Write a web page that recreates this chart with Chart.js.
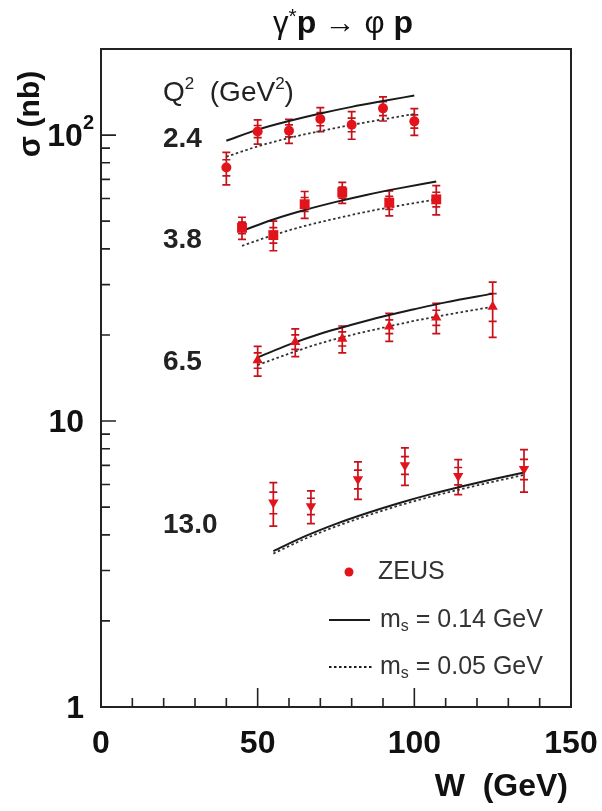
<!DOCTYPE html>
<html><head><meta charset="utf-8">
<script src="https://cdn.jsdelivr.net/npm/chart.js@4.4.0/dist/chart.umd.min.js"></script>
<style>html,body{margin:0;padding:0;background:#fff;}#wrap{width:602px;height:811px;}</style>
</head><body><div id="wrap"><canvas id="c" width="602" height="811"></canvas></div>
<script>
// ---------- data ----------
const qLabels = ["2.4", "3.8", "6.5", "13.0"];

// ZEUS measurements: W (GeV), sigma (nb), total error, statistical error
const W24 = [40, 50, 60, 70, 80, 90, 100];
const S24 = [77, 103, 103.5, 113.8, 108.7, 124, 111.7];
const ET24 = [10, 10, 10, 11, 12, 12, 12];
const ES24 = [5, 5, 5, 6, 6, 7, 6];

const W38 = [45, 55, 65, 77, 92, 107];
const S38 = [47.4, 44.7, 57.3, 63, 58, 59.6];
const ET38 = [4.2, 5.3, 6.2, 5.3, 5.8, 7];
const ES38 = [2.2, 2.8, 3.2, 2.8, 3, 3.5];

const W65 = [50, 62, 77, 92, 107, 125];
const S65 = [16.3, 18.9, 19.4, 21.4, 23.0, 25.1];
const ET65 = [1.95, 2.1, 2.1, 2.4, 2.8, 5.5];
const ES65 = [1.0, 1.1, 1.1, 1.2, 1.4, 2.8];

const W130 = [55, 67, 82, 97, 114, 135];
const S130 = [5.19, 5.04, 6.26, 7.01, 6.43, 6.79];
const ET130 = [0.9, 0.66, 0.94, 1.05, 0.9, 1.15];
const ES130 = [0.45, 0.33, 0.47, 0.5, 0.45, 0.55];

// model curves: m_s = 0.14 GeV (solid) and m_s = 0.05 GeV (dotted)
const CW24 = [40, 50, 60, 70, 80, 90, 100];
const SOL24 = [95.5, 104.5, 112, 119, 125.5, 131.5, 137.5];
const DOT24 = [84, 91.3, 97.7, 103.3, 108.5, 113.5, 118.5];

const CW38 = [45, 55, 65, 75, 85, 95, 107];
const SOL38 = [46.2, 50.7, 54.7, 58.4, 61.9, 65.1, 68.8];
const DOT38 = [41, 44.7, 48.1, 51.1, 54, 56.6, 59.6];

const CW65 = [50, 60, 70, 80, 90, 100, 110, 125];
const SOL65 = [16.7, 18.5, 20.2, 21.7, 23.2, 24.6, 26, 27.9];
const DOT65 = [15.7, 17.2, 18.7, 20, 21.2, 22.4, 23.5, 25.1];

const CW130 = [55, 65, 75, 85, 95, 105, 115, 125, 135];
const SOL130 = [3.51, 3.95, 4.37, 4.77, 5.16, 5.54, 5.90, 6.26, 6.61];
const DOT130 = [3.44, 3.87, 4.28, 4.67, 5.06, 5.43, 5.78, 6.13, 6.48];

// axes
const xTicks = [0, 50, 100, 150];
const xMinor = [10, 20, 30, 40, 60, 70, 80, 90, 110, 120, 130, 140];
const yTicks = [1, 10, 100];
const yTickBase = ["1", "10", "10"];
const yTickExp = ["", "", "2"];
const yMinor = [2, 3, 4, 5, 6, 7, 8, 9, 20, 30, 40, 50, 60, 70, 80, 90];

// ---------- chart ----------
const FAM = '"Liberation Sans", Arial, Helvetica, sans-serif';
const RED = '#e3131b';
const ERR = '#c8101a';

const pts = (w, s) => w.map((x, i) => ({x: x, y: s[i]}));

const pointSets = [
  {w: W24, s: S24, et: ET24, es: ES24, style: 'circle', rot: 0, r: 5},
  {w: W38, s: S38, et: ET38, es: ES38, style: 'rect', rot: 0, r: 7},
  {w: W65, s: S65, et: ET65, es: ES65, style: 'triangle', rot: 0, r: 6},
  {w: W130, s: S130, et: ET130, es: ES130, style: 'triangle', rot: 180, r: 6}
];
const curveSets = [
  [CW24, SOL24, DOT24], [CW38, SOL38, DOT38], [CW65, SOL65, DOT65], [CW130, SOL130, DOT130]
];

const datasets = [];
pointSets.forEach(p => datasets.push({
  type: 'scatter', data: pts(p.w, p.s), pointStyle: p.style, rotation: p.rot,
  pointRadius: p.r, backgroundColor: RED, borderColor: RED, borderWidth: 0, showLine: false, order: 0,
  errT: p.et, errS: p.es
}));
curveSets.forEach(c => {
  datasets.push({type: 'line', data: pts(c[0], c[1]), borderColor: '#1a1a1a', borderWidth: 2,
    pointRadius: 0, fill: false, cubicInterpolationMode: 'monotone', order: 2});
  datasets.push({type: 'line', data: pts(c[0], c[2]), borderColor: '#333', borderWidth: 1.8,
    borderDash: [2.5, 2.5], pointRadius: 0, fill: false, cubicInterpolationMode: 'monotone', order: 1});
});

function rich(ctx, parts, x, y, align) {
  let total = 0;
  parts.forEach(p => { ctx.font = p.f; total += ctx.measureText(p.t).width; });
  let cx = align === 'center' ? x - total / 2 : (align === 'right' ? x - total : x);
  ctx.textAlign = 'left';
  parts.forEach(p => { ctx.font = p.f; ctx.fillText(p.t, cx, y + (p.dy || 0)); cx += ctx.measureText(p.t).width; });
}

const deco = {
  id: 'deco',
  beforeDatasetsDraw(chart) {
    const ctx = chart.ctx, ys = chart.scales.y, xs = chart.scales.x;
    ctx.save();
    ctx.strokeStyle = ERR; ctx.lineWidth = 1.7;
    chart.data.datasets.forEach(ds => {
      if (!ds.errT) return;
      ds.data.forEach((d, i) => {
        const px = xs.getPixelForValue(d.x);
        const t1 = ys.getPixelForValue(d.y + ds.errT[i]), t2 = ys.getPixelForValue(d.y - ds.errT[i]);
        const s1 = ys.getPixelForValue(d.y + ds.errS[i]), s2 = ys.getPixelForValue(d.y - ds.errS[i]);
        ctx.beginPath();
        ctx.moveTo(px, t1); ctx.lineTo(px, t2);
        [t1, t2].forEach(yy => { ctx.moveTo(px - 4, yy); ctx.lineTo(px + 4, yy); });
        [s1, s2].forEach(yy => { ctx.moveTo(px - 4, yy); ctx.lineTo(px + 4, yy); });
        ctx.stroke();
      });
    });
    ctx.restore();
  },
  afterDraw(chart) {
    const ctx = chart.ctx, a = chart.chartArea, xs = chart.scales.x, ys = chart.scales.y;
    ctx.save();
    // frame
    ctx.strokeStyle = '#222'; ctx.lineWidth = 2;
    ctx.strokeRect(a.left, a.top, a.right - a.left, a.bottom - a.top);
    // ticks (inward)
    ctx.lineWidth = 1.6;
    ctx.beginPath();
    xTicks.forEach(v => { const p = xs.getPixelForValue(v); ctx.moveTo(p, a.bottom); ctx.lineTo(p, a.bottom - 19); });
    xMinor.forEach(v => { const p = xs.getPixelForValue(v); ctx.moveTo(p, a.bottom); ctx.lineTo(p, a.bottom - 9); });
    yTicks.forEach(v => { const p = ys.getPixelForValue(v); ctx.moveTo(a.left, p); ctx.lineTo(a.left + 15, p); });
    yMinor.forEach(v => { const p = ys.getPixelForValue(v); ctx.moveTo(a.left, p); ctx.lineTo(a.left + 9, p); });
    ctx.stroke();

    ctx.fillStyle = '#111';
    // y tick labels (with superscript exponent)
    ctx.textBaseline = 'middle';
    yTicks.forEach((v, i) => {
      const p = ys.getPixelForValue(v);
      const parts = [{t: yTickBase[i], f: 'bold 32px ' + FAM}];
      if (yTickExp[i]) parts.push({t: yTickExp[i], f: 'bold 20px ' + FAM, dy: -14});
      rich(ctx, parts, a.left - (yTickExp[i] ? 7 : 17), p + 2, 'right');
    });

    ctx.textBaseline = 'alphabetic';
    // title
    rich(ctx, [
      {t: '\u03B3', f: '31px ' + FAM},
      {t: '*', f: '21px ' + FAM, dy: -10},
      {t: 'p', f: 'bold 32px ' + FAM},
      {t: ' \u2192 ', f: '31px ' + FAM},
      {t: '\u03C6', f: '31px ' + FAM},
      {t: ' p', f: 'bold 32px ' + FAM}
    ], 343, 33, 'center');

    // y axis title
    ctx.save();
    ctx.translate(31, 114);
    ctx.rotate(-Math.PI / 2);
    ctx.textBaseline = 'middle';
    rich(ctx, [{t: '\u03C3 ', f: 'bold 31px ' + FAM}, {t: '(nb)', f: 'bold 30px ' + FAM}], 0, 0, 'center');
    ctx.restore();

    // x axis title
    ctx.textBaseline = 'middle';
    rich(ctx, [{t: 'W  (GeV)', f: 'bold 32px ' + FAM}], 568, 787, 'right');

    // Q2 header and labels
    ctx.textBaseline = 'alphabetic';
    ctx.fillStyle = '#222';
    rich(ctx, [
      {t: 'Q', f: '28px ' + FAM}, {t: '2', f: '17px ' + FAM, dy: -12},
      {t: '  (GeV', f: '28px ' + FAM}, {t: '2', f: '17px ' + FAM, dy: -12},
      {t: ')', f: '28px ' + FAM}
    ], 163, 101, 'left');
    ctx.textBaseline = 'middle';
    const qy = [139, 240, 362, 525];
    qLabels.forEach((q, i) => rich(ctx, [{t: q, f: 'bold 28px ' + FAM}], 163, qy[i], 'left'));

    // legend
    ctx.fillStyle = RED;
    ctx.beginPath(); ctx.arc(349, 572, 4.5, 0, Math.PI * 2); ctx.fill();
    ctx.fillStyle = '#333';
    rich(ctx, [{t: 'ZEUS', f: '25px ' + FAM}], 378, 572, 'left');
    ctx.strokeStyle = '#1a1a1a'; ctx.lineWidth = 2;
    ctx.beginPath(); ctx.moveTo(329, 620); ctx.lineTo(370, 620); ctx.stroke();
    ctx.lineWidth = 1.8; ctx.setLineDash([2.5, 2.5]);
    ctx.beginPath(); ctx.moveTo(329, 667); ctx.lineTo(372, 667); ctx.stroke();
    ctx.setLineDash([]);
    const ms = v => [{t: 'm', f: '25px ' + FAM}, {t: 's', f: '16px ' + FAM, dy: 7}, {t: ' = ' + v + ' GeV', f: '25px ' + FAM}];
    rich(ctx, ms('0.14'), 380, 620, 'left');
    rich(ctx, ms('0.05'), 380, 667, 'left');
    ctx.restore();
  }
};

new Chart(document.getElementById('c'), {
  data: {datasets: datasets},
  options: {
    responsive: false, animation: false, devicePixelRatio: 1,
    layout: {padding: {left: 0, right: 31, top: 49, bottom: 0}},
    plugins: {legend: {display: false}, tooltip: {enabled: false}, title: {display: false}},
    scales: {
      x: {
        type: 'linear', min: 0, max: 150,
        afterBuildTicks: s => { s.ticks = xTicks.map(v => ({value: v})); },
        afterFit: s => { s.height = 104; s.paddingLeft = 0; s.paddingRight = 0; },
        grid: {display: false, drawTicks: false}, border: {display: false},
        ticks: {font: {size: 32, weight: 'bold', family: FAM}, color: '#111', padding: 18, maxRotation: 0, autoSkip: false}
      },
      y: {
        type: 'logarithmic', min: 1, max: 200,
        afterBuildTicks: s => { s.ticks = yTicks.map(v => ({value: v})); },
        afterFit: s => { s.width = 101; s.paddingTop = 0; s.paddingBottom = 0; },
        grid: {display: false, drawTicks: false}, border: {display: false},
        ticks: {display: false}
      }
    }
  },
  plugins: [deco]
});
</script></body></html>
